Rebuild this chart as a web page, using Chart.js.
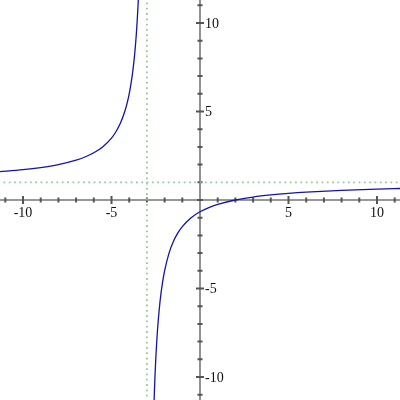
<!DOCTYPE html>
<html>
<head>
<meta charset="utf-8">
<script src="https://cdn.jsdelivr.net/npm/chart.js@4/dist/chart.umd.min.js"></script>
<style>
html,body{margin:0;padding:0;background:#fff;}
#wrap{width:400px;height:400px;}
</style>
</head>
<body>
<div id="wrap"><canvas id="c" width="400" height="400"></canvas></div>
<script>
// Axis range and ticks
const axisMin = -11.3;
const axisMax = 11.3;
const minorTicks = [-11,-10,-9,-8,-7,-6,-5,-4,-3,-2,-1,1,2,3,4,5,6,7,8,9,10,11];
const majorTicks = [-10,-5,5,10];
const tickLabels = ["-10","-5","5","10"];

// Left branch of the curve
const leftX = [-11.4,-10,-9,-8,-7,-6.5,-6,-5.5,-5,-4.75,-4.5,-4.25,-4.1,-4,-3.9,-3.8,-3.7,-3.6,-3.55,-3.5,-3.45];
const leftY = [1.595,1.714,1.833,2.0,2.25,2.429,2.667,3.0,3.5,3.857,4.333,5.0,5.545,6.0,6.556,7.25,8.143,9.333,10.091,11.0,12.11];

// Right branch of the curve
const rightX = [-2.6,-2.55,-2.5,-2.45,-2.4,-2.3,-2.2,-2.1,-2,-1.75,-1.5,-1.25,-1,-0.5,0,0.5,1,2,3,4,5,6,8,10,11.4];
const rightY = [-11.5,-10.111,-9,-8.091,-7.333,-6.143,-5.25,-4.556,-4,-3,-2.333,-1.857,-1.5,-1,-0.667,-0.429,-0.25,0,0.167,0.286,0.375,0.444,0.545,0.615,0.653];

// Asymptotes
const vAsymptoteX = -3;
const hAsymptoteY = 1;

const toPts = (xs, ys) => xs.map((x, i) => ({x: x, y: ys[i]}));

const axesPlugin = {
  id: 'centerAxes',
  beforeDatasetsDraw(chart) {
    const ctx = chart.ctx;
    const xs = chart.scales.x, ys = chart.scales.y;
    const x0 = xs.getPixelForValue(0);
    const y0 = ys.getPixelForValue(0);
    const area = chart.chartArea;
    ctx.save();
    ctx.strokeStyle = '#777777';
    ctx.lineWidth = 1.6;
    ctx.beginPath();
    ctx.moveTo(area.left, y0); ctx.lineTo(area.right, y0);
    ctx.moveTo(x0, area.top); ctx.lineTo(x0, area.bottom);
    ctx.stroke();
    // ticks
    ctx.strokeStyle = '#555555';
    ctx.lineWidth = 2;
    ctx.beginPath();
    minorTicks.forEach(v => {
      const big = majorTicks.includes(v);
      const L = big ? 4 : 2.5;
      const px = xs.getPixelForValue(v);
      ctx.moveTo(px, y0 - L); ctx.lineTo(px, y0 + L);
      const py = ys.getPixelForValue(v);
      ctx.moveTo(x0 - L, py); ctx.lineTo(x0 + L, py);
    });
    ctx.moveTo(x0 - 3, y0); ctx.lineTo(x0 + 3, y0);
    ctx.stroke();
    // labels
    ctx.fillStyle = '#111111';
    ctx.font = '14px "Liberation Serif", serif';
    majorTicks.forEach((v, i) => {
      const px = xs.getPixelForValue(v);
      ctx.textAlign = 'center';
      ctx.textBaseline = 'top';
      ctx.fillText(tickLabels[i], px, y0 + 6);
      const py = ys.getPixelForValue(v);
      ctx.textAlign = 'left';
      ctx.textBaseline = 'middle';
      ctx.fillText(tickLabels[i], x0 + 5, py + 1);
    });
    ctx.restore();
  }
};

new Chart(document.getElementById('c'), {
  type: 'scatter',
  data: {
    datasets: [
      {
        data: [{x: vAsymptoteX, y: axisMin - 1}, {x: vAsymptoteX, y: axisMax + 1}],
        showLine: true, borderColor: '#9cc79c', borderWidth: 1.8, borderDash: [1.8, 3.5],
        pointRadius: 0, fill: false
      },
      {
        data: [{x: axisMin - 1, y: hAsymptoteY}, {x: axisMax + 1, y: hAsymptoteY}],
        showLine: true, borderColor: '#9cc79c', borderWidth: 1.8, borderDash: [1.8, 3.5],
        pointRadius: 0, fill: false
      },
      {
        data: toPts(leftX, leftY),
        showLine: true, borderColor: '#1414a8', borderWidth: 1.3,
        cubicInterpolationMode: 'monotone', pointRadius: 0, fill: false
      },
      {
        data: toPts(rightX, rightY),
        showLine: true, borderColor: '#1414a8', borderWidth: 1.3,
        cubicInterpolationMode: 'monotone', pointRadius: 0, fill: false
      }
    ]
  },
  options: {
    responsive: false,
    animation: false,
    layout: {padding: 0},
    plugins: {legend: {display: false}, tooltip: {enabled: false}},
    scales: {
      x: {type: 'linear', min: axisMin, max: axisMax, display: false},
      y: {type: 'linear', min: axisMin, max: axisMax, display: false}
    }
  },
  plugins: [axesPlugin]
});
</script>
</body>
</html>
